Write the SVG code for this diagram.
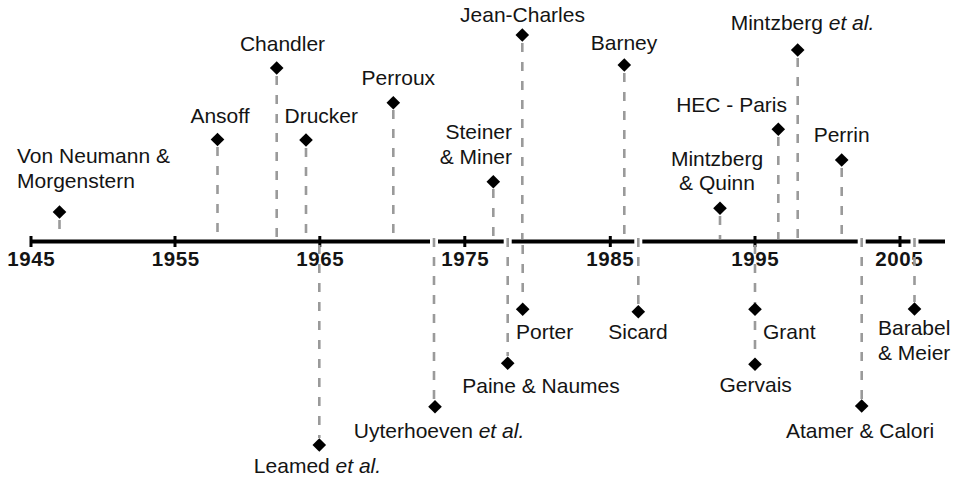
<svg xmlns="http://www.w3.org/2000/svg" xmlns:xlink="http://www.w3.org/1999/xlink" width="957" height="478" viewBox="0 0 957 478">
<style>
.lbl{font-family:"Liberation Sans",Arial,sans-serif;font-size:21px;fill:#141414}
.yr{font-family:"Liberation Sans",Arial,sans-serif;font-size:20.5px;font-weight:bold;fill:#141414;text-anchor:middle;letter-spacing:0.6px}
.m{text-anchor:middle}.e{text-anchor:end}
.conn{stroke:#9a9a9a;stroke-width:2.6;stroke-dasharray:9 10;fill:none}
.gap{stroke:#ffffff;stroke-width:8}
.tick{stroke:#000;stroke-width:3}
</style>
<defs>
<path id="dia" d="M0,-6.8 L6.8,0 L0,6.8 L-6.8,0Z" fill="#000"/>
</defs>
<rect width="957" height="478" fill="#fff"/>
<g id="axis">
<line x1="30" y1="241.5" x2="945" y2="241.5" stroke="#000" stroke-width="4"/>
<line class="tick" x1="31" y1="236" x2="31" y2="247"/>
<line class="tick" x1="175" y1="236" x2="175" y2="247"/>
<line class="tick" x1="319.8" y1="236" x2="319.8" y2="247"/>
<line class="tick" x1="464.8" y1="236" x2="464.8" y2="247"/>
<line class="tick" x1="610.3" y1="236" x2="610.3" y2="247"/>
<line class="tick" x1="755" y1="236" x2="755" y2="247"/>
<line class="tick" x1="900" y1="236" x2="900" y2="247"/>
<line class="gap" x1="434" y1="238" x2="434" y2="245.5"/>
<line class="gap" x1="507.7" y1="238" x2="507.7" y2="245.5"/>
<line class="gap" x1="638.3" y1="238" x2="638.3" y2="245.5"/>
<line class="gap" x1="861.7" y1="238" x2="861.7" y2="245.5"/>
<line class="gap" x1="914.5" y1="238" x2="914.5" y2="245.5"/>
<text class="yr" x="31.3" y="266">1945</text>
<text class="yr" x="175.8" y="266">1955</text>
<text class="yr" x="320.3" y="266">1965</text>
<text class="yr" x="465.3" y="266">1975</text>
<text class="yr" x="610.3" y="266">1985</text>
<text class="yr" x="755.3" y="266">1995</text>
<text class="yr" x="899.3" y="266">2005</text>
</g>
<g id="connectors">
<line class="conn" x1="59.5" y1="220" x2="59.5" y2="239"/>
<line class="conn" x1="217.5" y1="147" x2="217.5" y2="239"/>
<line class="conn" x1="276.7" y1="76" x2="276.7" y2="239"/>
<line class="conn" x1="306" y1="148" x2="306" y2="239"/>
<line class="conn" x1="393.3" y1="110" x2="393.3" y2="239"/>
<line class="conn" x1="493.3" y1="189" x2="493.3" y2="239"/>
<line class="conn" x1="522.3" y1="43" x2="522.3" y2="239"/>
<line class="conn" x1="624.3" y1="73" x2="624.3" y2="239"/>
<line class="conn" x1="720" y1="216" x2="720" y2="239"/>
<line class="conn" x1="778.3" y1="137" x2="778.3" y2="239"/>
<line class="conn" x1="797.7" y1="58" x2="797.7" y2="239"/>
<line class="conn" x1="841.7" y1="168" x2="841.7" y2="239"/>
<line class="conn" x1="319.3" y1="245" x2="319.3" y2="438"/>
<line class="conn" x1="434" y1="238" x2="434" y2="399"/>
<line class="conn" x1="507.7" y1="238" x2="507.7" y2="356"/>
<line class="conn" x1="522.7" y1="245" x2="522.7" y2="302"/>
<line class="conn" x1="638.3" y1="238" x2="638.3" y2="304"/>
<line class="conn" x1="755" y1="245" x2="755" y2="357"/>
<line class="conn" x1="861.7" y1="238" x2="861.7" y2="399"/>
<line class="conn" x1="914.5" y1="238" x2="914.5" y2="302"/>
</g>
<g id="vonneumann"><use xlink:href="#dia" x="59.5" y="212"/><text class="lbl" x="17" y="163">Von Neumann &amp;</text><text class="lbl" x="17" y="188">Morgenstern</text></g>
<g id="ansoff"><use xlink:href="#dia" x="217.5" y="139.5"/><text class="lbl m" x="220" y="123">Ansoff</text></g>
<g id="chandler"><use xlink:href="#dia" x="276.7" y="68"/><text class="lbl m" x="282.5" y="51">Chandler</text></g>
<g id="drucker"><use xlink:href="#dia" x="306" y="140"/><text class="lbl m" x="321.3" y="123">Drucker</text></g>
<g id="perroux"><use xlink:href="#dia" x="393.3" y="102.7"/><text class="lbl m" x="398.3" y="85">Perroux</text></g>
<g id="steiner"><use xlink:href="#dia" x="493.3" y="181.7"/><text class="lbl e" x="512" y="138.5">Steiner</text><text class="lbl e" x="512" y="163.5">&amp; Miner</text></g>
<g id="jeancharles"><use xlink:href="#dia" x="522.3" y="35"/><text class="lbl m" x="522.5" y="22">Jean-Charles</text></g>
<g id="barney"><use xlink:href="#dia" x="624.3" y="65"/><text class="lbl m" x="624" y="50">Barney</text></g>
<g id="mintzbergquinn"><use xlink:href="#dia" x="720" y="208.3"/><text class="lbl m" x="717" y="165.5">Mintzberg</text><text class="lbl m" x="717" y="190">&amp; Quinn</text></g>
<g id="hec"><use xlink:href="#dia" x="778.3" y="129.3"/><text class="lbl e" x="787" y="111.7">HEC - Paris</text></g>
<g id="mintzbergetal"><use xlink:href="#dia" x="797.7" y="50"/><text class="lbl m" x="802.5" y="30">Mintzberg <tspan font-style="italic">et al.</tspan></text></g>
<g id="perrin"><use xlink:href="#dia" x="841.7" y="160"/><text class="lbl m" x="841.7" y="142">Perrin</text></g>
<g id="leamed"><use xlink:href="#dia" x="319.3" y="445"/><text class="lbl m" x="317.5" y="473">Leamed <tspan font-style="italic">et al.</tspan></text></g>
<g id="uyterhoeven"><use xlink:href="#dia" x="435" y="406.7"/><text class="lbl m" x="439" y="438">Uyterhoeven <tspan font-style="italic">et al.</tspan></text></g>
<g id="paine"><use xlink:href="#dia" x="507.7" y="363.3"/><text class="lbl m" x="541" y="392.7">Paine &amp; Naumes</text></g>
<g id="porter"><use xlink:href="#dia" x="522.7" y="309.3"/><text class="lbl" x="516" y="339">Porter</text></g>
<g id="sicard"><use xlink:href="#dia" x="638.3" y="311.7"/><text class="lbl m" x="638" y="339">Sicard</text></g>
<g id="grant"><use xlink:href="#dia" x="755" y="309.3"/><text class="lbl" x="763" y="339">Grant</text></g>
<g id="gervais"><use xlink:href="#dia" x="755" y="364.3"/><text class="lbl m" x="755.7" y="392">Gervais</text></g>
<g id="atamer"><use xlink:href="#dia" x="861.7" y="406"/><text class="lbl m" x="860" y="438">Atamer &amp; Calori</text></g>
<g id="barabel"><use xlink:href="#dia" x="914.5" y="309"/><text class="lbl" x="878" y="335">Barabel</text><text class="lbl" x="878" y="360">&amp; Meier</text></g>
</svg>
